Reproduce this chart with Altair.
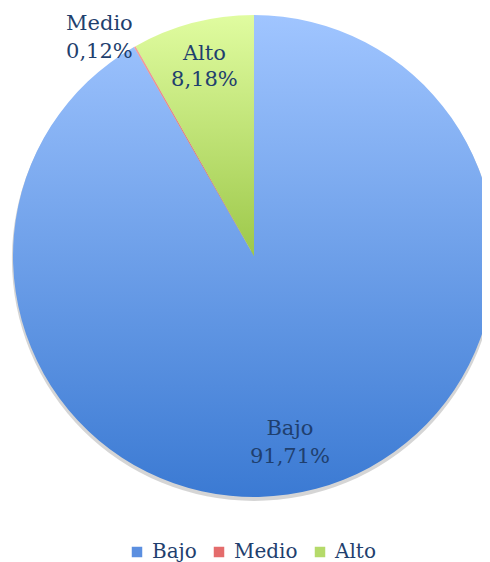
import altair as alt
import pandas as pd

categories = ["Bajo", "Medio", "Alto"]
values = [91.71, 0.12, 8.18]
labels = ["91,71%", "0,12%", "8,18%"]

df = pd.DataFrame({"cat": categories, "value": values, "label": labels, "order": [0, 1, 2]})
total = sum(values)

CX, CY, R = 246, 248, 241
TEXT = "#1F3F6E"
FONT = "DejaVu Serif"

grads = {
    "Bajo": alt.Gradient(gradient="linear", x1=0, y1=0, x2=0, y2=1,
                         stops=[alt.GradientStop(offset=0, color="#A0C5FF"),
                                alt.GradientStop(offset=1, color="#3B7AD3")]),
    "Medio": alt.Gradient(gradient="linear", x1=0, y1=0, x2=0, y2=1,
                          stops=[alt.GradientStop(offset=0, color="#F5A0A0"),
                                 alt.GradientStop(offset=1, color="#D04040")]),
    "Alto": alt.Gradient(gradient="linear", x1=0, y1=0, x2=0, y2=1,
                         stops=[alt.GradientStop(offset=0, color="#E0FCA0"),
                                alt.GradientStop(offset=1, color="#9DC84A")]),
}

base = alt.Chart(df).transform_window(
    cum="sum(value)", sort=[alt.SortField("order")]
).transform_calculate(
    start="datum.cum - datum.value", mid="datum.cum - datum.value/2"
)

theta_scale = alt.Scale(domain=[0, total])

shadow_all = alt.Chart(pd.DataFrame({"a": [0]})).mark_arc(
    radius=R + 1, fill="#888888", opacity=0.35
).encode(theta=alt.value(0), theta2=alt.value(6.2832), x=alt.value(CX), y=alt.value(CY + 3))

# legend layer (hidden under the pie)
legend_layer = base.mark_square(size=100, opacity=1, filled=True).encode(
    x=alt.value(CX), y=alt.value(CY),
    color=alt.Color("cat:N", scale=alt.Scale(domain=categories, range=["#5B8FE0", "#E46C6C", "#B5DA6A"]),
                    sort=categories,
                    legend=alt.Legend(orient="none", legendX=119, legendY=534, direction="horizontal",
                                      title=None, symbolType="square", symbolSize=110,
                                      symbolStrokeWidth=0, labelFont=FONT, labelFontSize=20,
                                      labelColor=TEXT, columnPadding=12, labelOffset=5)),
)

layers = [legend_layer, shadow_all]
for c in categories:
    layers.append(
        base.transform_filter(f"datum.cat == '{c}'").mark_arc(
            radius=R, fill=grads[c], strokeWidth=0
        ).encode(
            theta=alt.Theta("start:Q", scale=theta_scale),
            theta2="cum:Q",
            x=alt.value(CX), y=alt.value(CY),
        )
    )


def label_layer(c, r, dx=0, dy=0, gap=13):
    b = base.transform_filter(f"datum.cat == '{c}'")
    t1 = b.mark_text(font=FONT, fontSize=21, color=TEXT, dx=dx, dy=dy - gap, baseline="middle").encode(
        theta=alt.Theta("mid:Q", scale=theta_scale), radius=alt.value(r),
        x=alt.value(CX), y=alt.value(CY), text="cat:N")
    t2 = b.mark_text(font=FONT, fontSize=21, color=TEXT, dx=dx, dy=dy + gap, baseline="middle").encode(
        theta=alt.Theta("mid:Q", scale=theta_scale), radius=alt.value(r),
        x=alt.value(CX), y=alt.value(CY), text="label:N")
    return [t1, t2]

texts = (label_layer("Bajo", 186, dx=-12, dy=7, gap=14)
         + label_layer("Alto", 195)
         + label_layer("Medio", 268, dx=-22, dy=15, gap=14))

chart = alt.layer(*layers, *texts).properties(
    width=474, height=496,
    autosize=alt.AutoSizeParams(type="none"),
    padding={"left": 0, "top": 0, "right": 0, "bottom": 58},
).configure_view(stroke=None)

chart.save("out.html", embed_options={"renderer": "svg", "actions": False})
